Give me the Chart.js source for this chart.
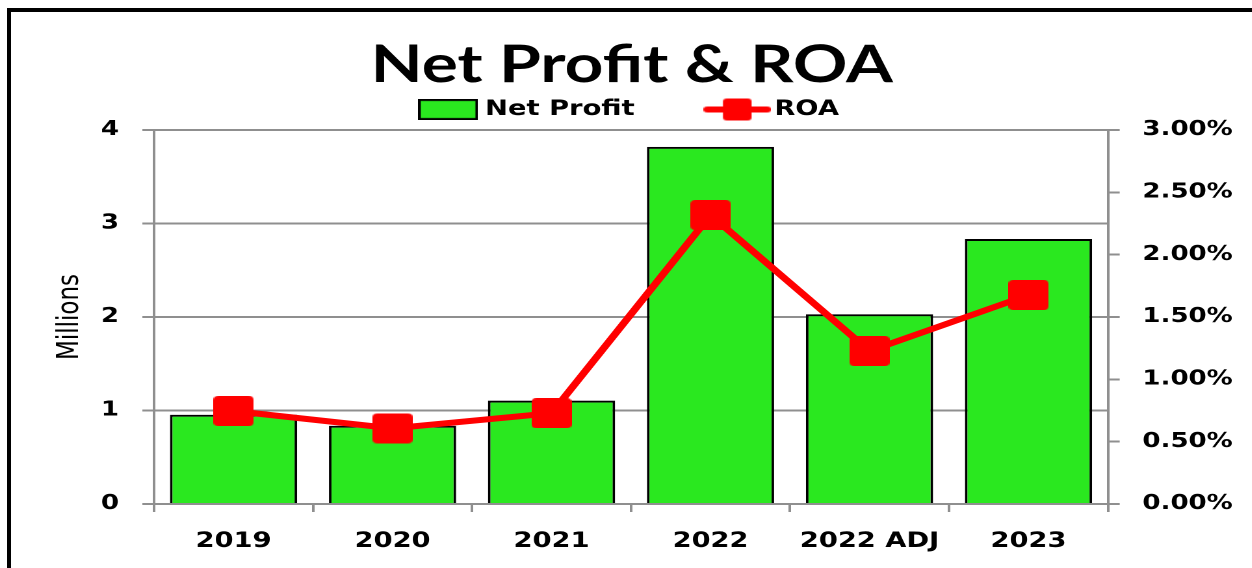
<!DOCTYPE html>
<html>
<head>
<meta charset="utf-8">
<script src="https://cdn.jsdelivr.net/npm/chart.js@4.4.1/dist/chart.umd.min.js"></script>
<style>
  html, body { margin: 0; padding: 0; background: #fff; overflow: hidden; }
  #frame { position: absolute; left: 7px; top: 8px; width: 1400px; height: 700px; border-left: 4px solid #000; border-top: 4px solid #000; }
  /* the source picture is stretched sideways, so the chart is drawn narrow and scaled */
  #wrap { position: absolute; left: 0; top: 0; width: 963px; height: 568px; transform: scaleX(1.3); transform-origin: 0 0; }
</style>
</head>
<body>
<div id="frame"></div>
<div id="wrap"><canvas id="chart" width="963" height="568"></canvas></div>
<script>
// data
const categories = ['2019', '2020', '2021', '2022', '2022 ADJ', '2023'];
const netProfit = [0.955, 0.837, 1.105, 3.82, 2.03, 2.834];   // millions
const roa = [0.746, 0.607, 0.728, 2.318, 1.227, 1.676];       // percent
const profitTicks = [0, 1, 2, 3, 4];
const roaTicks = [0, 0.5, 1, 1.5, 2, 2.5, 3];

const GREEN = '#2AE81F';
const RED = '#FF0000';
const GRID = '#8f8f8f';

function makeCanvas(w, h, draw) {
    const c = document.createElement('canvas');
    c.width = w;
    c.height = h;
    draw(c.getContext('2d'));
    return c;
}

function roundRect(ctx, x, y, w, h, r) {
    ctx.beginPath();
    ctx.moveTo(x + r, y);
    ctx.lineTo(x + w - r, y);
    ctx.quadraticCurveTo(x + w, y, x + w, y + r);
    ctx.lineTo(x + w, y + h - r);
    ctx.quadraticCurveTo(x + w, y + h, x + w - r, y + h);
    ctx.lineTo(x + r, y + h);
    ctx.quadraticCurveTo(x, y + h, x, y + h - r);
    ctx.lineTo(x, y + r);
    ctx.quadraticCurveTo(x, y, x + r, y);
    ctx.closePath();
}

// square marker with rounded corners
const marker = makeCanvas(31, 30, ctx => {
    ctx.fillStyle = RED;
    roundRect(ctx, 0, 0, 31, 30, 4);
    ctx.fill();
});

// legend swatches
const barSwatch = makeCanvas(46, 21, ctx => {
    ctx.fillStyle = GREEN;
    ctx.fillRect(1, 1, 44, 19);
    ctx.strokeStyle = '#000';
    ctx.lineWidth = 2;
    ctx.strokeRect(1, 1, 44, 19);
});
const lineSwatch = makeCanvas(52, 24, ctx => {
    ctx.strokeStyle = RED;
    ctx.lineWidth = 6;
    ctx.lineCap = 'round';
    ctx.beginPath();
    ctx.moveTo(3, 12);
    ctx.lineTo(49, 12);
    ctx.stroke();
    ctx.fillStyle = RED;
    roundRect(ctx, 15, 1, 22, 22, 3);
    ctx.fill();
});
const swatches = [barSwatch, lineSwatch];

Chart.defaults.font.family = 'DejaVu Sans';
Chart.defaults.color = '#000';

const tickFont = { family: 'DejaVu Sans', weight: 'bold', size: 20 };

new Chart(document.getElementById('chart'), {
    type: 'bar',
    data: {
        labels: categories,
        datasets: [{
            label: 'Net Profit',
            data: netProfit,
            backgroundColor: GREEN,
            borderColor: '#000',
            borderWidth: 2,
            barPercentage: 0.8,
            categoryPercentage: 1.0,
            yAxisID: 'y',
            order: 2
        }, {
            type: 'line',
            label: 'ROA',
            data: roa,
            borderColor: RED,
            backgroundColor: RED,
            borderWidth: 6,
            tension: 0,
            pointStyle: marker,
            pointRadius: 15,
            yAxisID: 'y1',
            order: 1
        }]
    },
    options: {
        responsive: false,
        animation: false,
        devicePixelRatio: 2,
        layout: { padding: { left: 9, right: 0, top: 0, bottom: 0 } },
        plugins: {
            tooltip: { enabled: false },
            title: {
                display: true,
                text: 'Net Profit & ROA',
                color: '#000',
                font: { family: 'Lato', weight: 'bold', size: 52 },
                padding: { top: 34, bottom: -58.4 }
            },
            legend: {
                position: 'top',
                labels: {
                    usePointStyle: true,
                    pointStyleWidth: 36,
                    padding: 61,
                    color: '#000',
                    font: { family: 'DejaVu Sans', weight: 'bold', size: 21 },
                    sort: (a, b) => a.datasetIndex - b.datasetIndex,
                    generateLabels: chart => {
                        const items = Chart.defaults.plugins.legend.labels.generateLabels(chart);
                        items.forEach(it => { it.pointStyle = swatches[it.datasetIndex]; });
                        return items;
                    }
                }
            }
        },
        scales: {
            x: {
                grid: { drawOnChartArea: false, color: GRID, lineWidth: 2, tickLength: 8, offset: true },
                border: { color: GRID, width: 2 },
                ticks: { font: { family: 'DejaVu Sans', weight: 'bold', size: 21 }, color: '#000', padding: 17 },
                afterFit: s => { s.height = 64; }
            },
            y: {
                position: 'left',
                min: 0,
                max: 4,
                afterBuildTicks: s => { s.ticks = profitTicks.map(v => ({ value: v })); },
                grid: { color: GRID, lineWidth: 2, tickLength: 9 },
                border: { color: GRID, width: 2 },
                ticks: { font: tickFont, color: '#000', padding: 18 },
                title: {
                    display: true,
                    text: 'Millions',
                    color: '#000',
                    font: { family: 'DejaVu Sans', size: 23 },
                    padding: { top: 31, bottom: 0 }
                },
                afterFit: s => { s.width = 109.5; }
            },
            y1: {
                position: 'right',
                min: 0,
                max: 3,
                afterBuildTicks: s => { s.ticks = roaTicks.map(v => ({ value: v })); },
                grid: { drawOnChartArea: false, color: GRID, lineWidth: 2, tickLength: 9 },
                border: { color: GRID, width: 2 },
                ticks: {
                    font: tickFont,
                    color: '#000',
                    padding: 17.5,
                    callback: v => v.toFixed(2) + '%'
                },
                afterFit: s => { s.width = 110.7; }
            }
        }
    }
});
</script>
</body>
</html>
